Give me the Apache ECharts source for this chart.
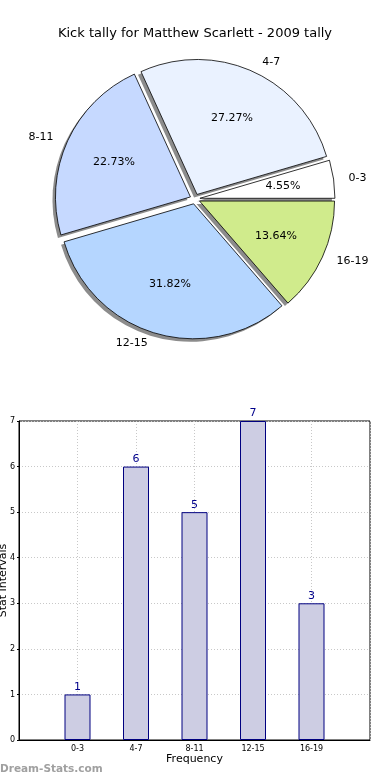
<!DOCTYPE html>
<html><head><meta charset="utf-8">
<script src="https://cdn.jsdelivr.net/npm/echarts@6/dist/echarts.min.js"></script>
<style>html,body{margin:0;padding:0;background:#fff}#c{width:390px;height:780px}</style>
</head><body><div id="c"></div>
<script>
const titleText = 'Kick tally for Matthew Scarlett - 2009 tally';
const categories = ['0-3', '4-7', '8-11', '12-15', '16-19'];
const counts = [1, 6, 5, 7, 3];
const sliceColors = ['#ffffff', '#eaf2ff', '#c6d9ff', '#b5d6ff', '#d0eb8c'];
const yTicks = [0, 1, 2, 3, 4, 5, 6, 7];
const xAxisName = 'Frequency';
const yAxisName = 'Stat Intervals';
const watermark = 'Dream-Stats.com';

const FONT = 'DejaVu Sans';
const R = 135;
const center = [195, 199];
const shadowCenter = [192, 202];
const total = counts.reduce((a, b) => a + b, 0);

const pieData = categories.map((c, i) => ({
  name: c, value: counts[i], selected: true,
  itemStyle: { color: sliceColors[i] }
}));
const pieOverlay = categories.map((c, i) => ({
  name: c, value: counts[i], selected: true
}));

const pieCommon = {
  type: 'pie', startAngle: 0, clockwise: false,
  selectedMode: 'multiple', selectedOffset: 5,
  avoidLabelOverlap: false, emphasis: { disabled: true }, silent: true
};

const chart = echarts.init(document.getElementById('c'), null, { renderer: 'canvas' });
chart.setOption({
  animation: false,
  backgroundColor: '#fff',
  title: {
    text: titleText, left: 'center', top: 22,
    textStyle: { fontFamily: FONT, fontSize: 13, fontWeight: 'normal', color: '#000' }
  },
  grid: { left: 19, right: 20, top: 421, bottom: 40, containLabel: false, outerBoundsMode: 'none',
          show: true, borderColor: '#000', borderWidth: 1 },
  xAxis: {
    type: 'value', min: 0, max: 6, interval: 1,
    name: xAxisName, nameLocation: 'middle', nameGap: 14, nameMoveOverlap: false,
    nameTextStyle: { fontFamily: FONT, fontSize: 11, color: '#000' },
    axisLine: { show: true, lineStyle: { color: '#000' } },
    axisTick: { show: false },
    axisLabel: {
      fontFamily: FONT, fontSize: 8, color: '#000', margin: 5,
      formatter: v => (v >= 1 && v <= categories.length) ? categories[v - 1] : ''
    },
    splitLine: { show: true, lineStyle: { color: '#c8c8c8', type: [1, 2], width: 1 } }
  },
  yAxis: {
    type: 'value', min: yTicks[0], max: yTicks[yTicks.length - 1], interval: 1,
    name: yAxisName, nameLocation: 'middle', nameGap: 10, nameRotate: 90, nameMoveOverlap: false,
    nameTextStyle: { fontFamily: FONT, fontSize: 11, color: '#000' },
    axisLine: { show: true, lineStyle: { color: '#000' } },
    axisTick: { show: true, length: 2, lineStyle: { color: '#000' } },
    axisLabel: { fontFamily: FONT, fontSize: 8, color: '#000', margin: 4 },
    splitLine: { show: true, lineStyle: { color: '#c8c8c8', type: [1, 2], width: 1 } }
  },
  graphic: [{
    type: 'text', left: 0, top: 764,
    style: { text: watermark, fontFamily: FONT, fontSize: 10.5, fontWeight: 'bold', fill: '#a0a0a0' }
  }],
  series: [
    Object.assign({}, pieCommon, {
      center: shadowCenter, radius: [0, R], z: 1,
      itemStyle: { color: '#8c8c8c', borderWidth: 0 },
      label: { show: false }, labelLine: { show: false },
      data: pieOverlay
    }),
    Object.assign({}, pieCommon, {
      center: center, radius: [0, R], z: 2,
      itemStyle: { borderColor: '#000', borderWidth: 0.8 },
      label: { show: true, position: 'outside', formatter: '{b}', fontFamily: FONT, fontSize: 11, color: '#000' },
      labelLine: { show: false, length: 10, length2: 0 },
      data: pieData
    }),
    Object.assign({}, pieCommon, {
      center: center, radius: [R * 0.2, R], z: 3,
      itemStyle: { color: 'rgba(0,0,0,0)', borderWidth: 0 },
      label: { show: true, position: 'inside', formatter: p => (p.value / total * 100).toFixed(2) + '%',
               fontFamily: FONT, fontSize: 11, color: '#000' },
      labelLine: { show: false },
      data: pieOverlay
    }),
    {
      type: 'bar', barWidth: 26,
      data: categories.map((c, i) => [i + 1, counts[i]]),
      itemStyle: { color: '#cdcde3', borderColor: '#000080', borderWidth: 1 },
      label: { show: true, position: 'top', distance: 2, formatter: p => p.value[1], fontFamily: FONT, fontSize: 11, color: '#00008b' },
      z: 3
    }
  ]
});
</script></body></html>
